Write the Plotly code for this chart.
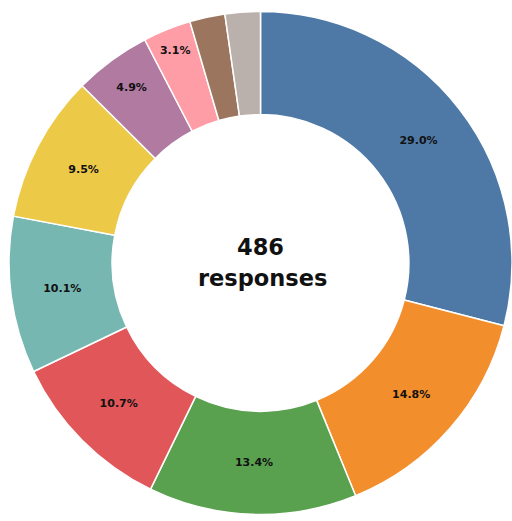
import plotly.graph_objects as go

categories = ["A", "B", "C", "D", "E", "F", "G", "H", "I", "J"]
counts = [141, 72, 65, 52, 49, 46, 24, 15, 11, 11]
colors = ["#4e79a7", "#f28e2b", "#59a14f", "#e15759", "#76b7b2",
          "#edc948", "#b07aa1", "#ff9da7", "#9c755f", "#bab0ac"]
center_number = "486"
center_label = "responses"

total = sum(counts)
labels_text = [f"{100*c/total:.1f}%" if 100 * c / total >= 3 else "" for c in counts]

fig = go.Figure(go.Pie(
    labels=categories,
    values=counts,
    text=labels_text,
    textinfo="text",
    textposition="inside",
    insidetextorientation="horizontal",
    textfont=dict(family="DejaVu Sans", size=11, color="#111111", weight="bold"),
    marker=dict(colors=colors, line=dict(color="white", width=1.5)),
    hole=0.59,
    sort=False,
    direction="clockwise",
    rotation=0,
    domain=dict(x=[0.0176, 1.0], y=[0.0, 0.9904]),
    showlegend=False,
))

fig.add_annotation(
    text=f"<b>{center_number}</b>",
    x=0.5088, y=1 - 262.0 / 521, xref="paper", yref="paper",
    xanchor="center", yanchor="bottom",
    showarrow=False,
    font=dict(family="DejaVu Sans", size=22.5, color="#111111"),
)
fig.add_annotation(
    text=f"<b>{center_label}</b>",
    x=0.5127, y=1 - 263.0 / 521, xref="paper", yref="paper",
    xanchor="center", yanchor="top",
    showarrow=False,
    font=dict(family="DejaVu Sans", size=22.5, color="#111111"),
)

fig.update_layout(
    width=512, height=521,
    margin=dict(l=0, r=0, t=0, b=0),
    paper_bgcolor="white",
    plot_bgcolor="white",
)

fig.write_html("out.html", config={"displayModeBar": False},
               post_script="document.body.style.margin='0';")
